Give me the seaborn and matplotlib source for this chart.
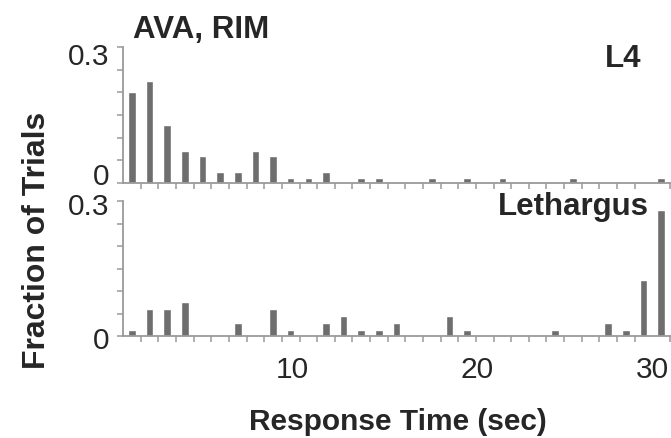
import numpy as np
import pandas as pd
import matplotlib
matplotlib.use("Agg")
import matplotlib.pyplot as plt
import matplotlib.transforms as mtransforms
import seaborn as sns
from matplotlib.ticker import MultipleLocator, FixedLocator

sns.set_theme(style="white")
plt.rcParams['font.family'] = ['Liberation Sans', 'DejaVu Sans']

# Response-time bins (seconds) 1..31
bins = list(range(1, 32))
ava_rim_l4 = [0.200, 0.224, 0.129, 0.071, 0.059, 0.024, 0.024, 0.071, 0.059, 0.012,
              0.012, 0.024, 0.0, 0.012, 0.012, 0.0, 0.0, 0.012, 0.0, 0.012,
              0.0, 0.012, 0.0, 0.0, 0.0, 0.012, 0.0, 0.0, 0.0, 0.0, 0.012]
lethargus = [0.015, 0.061, 0.061, 0.076, 0.0, 0.0, 0.030, 0.0, 0.061, 0.015,
             0.0, 0.030, 0.045, 0.015, 0.015, 0.030, 0.0, 0.0, 0.045, 0.015,
             0.0, 0.0, 0.0, 0.0, 0.015, 0.0, 0.0, 0.030, 0.015, 0.124, 0.280]
xtick_labels = ["10", "20", "30"]
xtick_pos = [10.1, 20.55, 30.5]
ytick_labels = ["0", "0.3"]

W, H = 671, 438
fig = plt.figure(figsize=(W / 100, H / 100), dpi=100)

left = 123.3 / W
width = 1 - left
ax_top = fig.add_axes([left, 1 - 183 / H, width, (183 - 47) / H])
ax_bot = fig.add_axes([left, 1 - 336.3 / H, width, (336.3 - 201) / H])

bar_color = "#6e6e6e"
spine_color = "#9a9a9a"
fs = 21.5
fs_bold = 22.5

for ax, vals in [(ax_top, ava_rim_l4), (ax_bot, lethargus)]:
    df = pd.DataFrame({"t": bins, "f": vals})
    sns.barplot(data=df, x="t", y="f", native_scale=True, width=0.43,
                color=bar_color, saturation=1, ax=ax, errorbar=None)
    ax.set_xlim(0.51, 31.56)
    ax.set_ylim(0, 0.3)
    for s in ["top", "right"]:
        ax.spines[s].set_visible(False)
    for s in ["left", "bottom"]:
        ax.spines[s].set_color(spine_color)
        ax.spines[s].set_linewidth(1.3)
    ax.set_xlabel("")
    ax.set_ylabel("")
    ax.yaxis.set_major_locator(FixedLocator([0, 0.3]))
    ax.set_yticklabels(ytick_labels)
    ax.yaxis.set_minor_locator(MultipleLocator(0.05))
    ax.xaxis.set_minor_locator(FixedLocator(np.arange(0.5, 32, 1.0)))
    ax.xaxis.set_major_locator(FixedLocator(xtick_pos))
    ax.tick_params(axis="y", which="both", direction="out", length=4, width=1.1,
                   color=spine_color, left=True, labelsize=fs, pad=6)
    ax.tick_params(axis="x", which="minor", direction="out", length=4, width=1.1,
                   color=spine_color, bottom=True)
    ax.tick_params(axis="x", which="major", length=0, labelsize=fs, pad=14)
    ax.grid(False)

ax_top.set_xticklabels([])
ax_bot.set_xticklabels(xtick_labels)

def shift_labels(ax, shifts_px):
    for lab, dy in zip(ax.get_yticklabels(), shifts_px):
        lab.set_transform(lab.get_transform() +
                          mtransforms.ScaledTranslation(0, dy / 100, fig.dpi_scale_trans))

shift_labels(ax_top, [9, -7])     # "0" up, "0.3" down
shift_labels(ax_bot, [-2, -3])

fig.text(133 / W, 1 - 38 / H, "AVA, RIM", fontsize=fs_bold, fontweight="bold",
         ha="left", va="baseline")
fig.text(605 / W, 1 - 67 / H, "L4", fontsize=fs_bold, fontweight="bold",
         ha="left", va="baseline")
fig.text(498 / W, 1 - 215 / H, "Lethargus", fontsize=fs_bold, fontweight="bold",
         ha="left", va="baseline")
fig.text(37 / W, 1 - 240 / H, "Fraction of Trials", fontsize=23, fontweight="bold",
         rotation=90, ha="center", va="center")
fig.text(398 / W, 1 - 430 / H, "Response Time (sec)", fontsize=21.5, fontweight="bold",
         ha="center", va="baseline")

fig.savefig("out.png", dpi=100)
